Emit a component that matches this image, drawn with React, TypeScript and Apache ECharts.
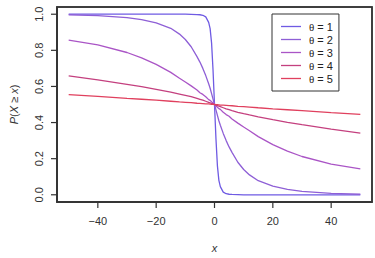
import React, { useEffect, useRef } from "react";
import * as echarts from "echarts";

const xValues = [-50, -40, -30, -25, -20, -15, -12, -10, -8, -6, -5, -4, -3, -2, -1.5, -1, -0.5, 0, 0.5, 1, 1.5, 2, 3, 4, 5, 6, 8, 10, 12, 15, 20, 25, 30, 40, 50];

const pTheta1 = [1.0, 1.0, 1.0, 1.0, 1.0, 1.0, 1.0, 1.0, 0.999, 0.998, 0.997, 0.994, 0.985, 0.955, 0.92, 0.84, 0.69, 0.5, 0.31, 0.16, 0.08, 0.045, 0.015, 0.006, 0.003, 0.002, 0.001, 0, 0, 0, 0, 0, 0, 0, 0];
const pTheta2 = [0.997, 0.992, 0.981, 0.97, 0.952, 0.922, 0.89, 0.86, 0.82, 0.765, 0.735, 0.7, 0.66, 0.615, 0.59, 0.56, 0.53, 0.5, 0.47, 0.44, 0.41, 0.385, 0.34, 0.3, 0.265, 0.235, 0.18, 0.14, 0.11, 0.078, 0.048, 0.03, 0.019, 0.008, 0.003];
const pTheta3 = [0.857, 0.83, 0.788, 0.758, 0.722, 0.678, 0.645, 0.625, 0.603, 0.58, 0.565, 0.556, 0.543, 0.527, 0.523, 0.515, 0.508, 0.5, 0.492, 0.485, 0.477, 0.473, 0.457, 0.444, 0.435, 0.42, 0.397, 0.375, 0.355, 0.322, 0.278, 0.242, 0.212, 0.17, 0.143];
const pTheta4 = [0.658, 0.636, 0.612, 0.599, 0.584, 0.568, 0.558, 0.551, 0.543, 0.534, 0.529, 0.524, 0.518, 0.512, 0.509, 0.506, 0.503, 0.5, 0.497, 0.494, 0.491, 0.488, 0.482, 0.476, 0.471, 0.466, 0.457, 0.449, 0.442, 0.432, 0.416, 0.401, 0.388, 0.364, 0.342];
const pTheta5 = [0.555, 0.545, 0.534, 0.529, 0.524, 0.518, 0.514, 0.512, 0.51, 0.507, 0.506, 0.505, 0.504, 0.503, 0.502, 0.501, 0.5005, 0.5, 0.4995, 0.499, 0.498, 0.497, 0.496, 0.495, 0.494, 0.493, 0.49, 0.488, 0.486, 0.482, 0.476, 0.471, 0.466, 0.455, 0.445];

const seriesNames = ["θ = 1", "θ = 2", "θ = 3", "θ = 4", "θ = 5"];
const seriesValues = [pTheta1, pTheta2, pTheta3, pTheta4, pTheta5];
const seriesColors = ["#6F5BE3", "#8E5FD6", "#AA55C6", "#C4407F", "#E0405E"];

const xTicks = [-40, -20, 0, 20, 40];
const yTicks = [0, 0.2, 0.4, 0.6, 0.8, 1.0];
const xRange = [-54, 54];
const yRange = [-0.04, 1.04];

const FONT = "'Liberation Sans', Arial, Helvetica, sans-serif";
const BOX = "#333333";

export default function App() {
  const ref = useRef<HTMLDivElement>(null);

  useEffect(() => {
    if (!ref.current) return;
    const chart = echarts.init(ref.current, undefined, { renderer: "svg" });
    chart.setOption({
      animation: false,
      textStyle: { fontFamily: FONT },
      grid: {
        left: 51,
        right: 3,
        top: 7,
        bottom: 50,
        show: true,
        borderColor: BOX,
        borderWidth: 1.5,
        backgroundColor: "rgba(0,0,0,0)",
      },
      legend: {
        orient: "vertical",
        left: 272,
        top: 14,
        padding: [6, 6, 6, 9],
        itemGap: 0,
        itemWidth: 20,
        itemHeight: 1.3,
        icon: "rect",
        borderColor: "#333333",
        borderWidth: 1,
        data: seriesNames,
        formatter: (name: string) => "{t|θ}" + name.slice(1),
        textStyle: {
          fontFamily: FONT,
          fontSize: 11,
          lineHeight: 13,
          color: "#222222",
          padding: [0, 0, 0, 3],
          rich: {
            t: { fontFamily: "'Liberation Serif', 'DejaVu Serif', serif", fontSize: 11, lineHeight: 13, color: "#222222" },
          },
        },
      },
      xAxis: {
        type: "value",
        min: xRange[0],
        max: xRange[1],
        splitLine: { show: false },
        axisLine: { show: true, onZero: false, lineStyle: { color: BOX, width: 1.5 } },
        axisTick: { show: false },
        axisLabel: {
          customValues: xTicks,
          margin: 13,
          fontSize: 11,
          color: "#333333",
          fontFamily: FONT,
          formatter: (v: number) => (v < 0 ? "\u2212" + Math.abs(v) : String(v)),
        },
        name: "x",
        nameLocation: "middle",
        nameGap: 40,
        nameTextStyle: { fontSize: 11, fontStyle: "italic", color: "#333333", fontFamily: FONT },
      },
      yAxis: {
        type: "value",
        min: yRange[0],
        max: yRange[1],
        splitLine: { show: false },
        axisLine: { show: true, onZero: false, lineStyle: { color: BOX, width: 1.5 } },
        axisTick: { show: false },
        axisLabel: {
          customValues: yTicks,
          rotate: 90,
          margin: 13,
          fontSize: 11,
          color: "#333333",
          fontFamily: FONT,
          formatter: (v: number) => v.toFixed(1),
        },
        name: "{i|P}({i|X} \u2265 {i|x})",
        nameLocation: "middle",
        nameRotate: 90,
        nameGap: 38,
        nameTextStyle: {
          fontSize: 11,
          color: "#333333",
          fontFamily: FONT,
          rich: { i: { fontStyle: "italic", fontSize: 11, color: "#333333", fontFamily: FONT } },
        },
      },
      series: seriesNames.map((name, i) => ({
        name,
        type: "line",
        data: xValues.map((x, j) => [x, seriesValues[i][j]]),
        showSymbol: false,
        symbol: "none",
        smooth: false,
        lineStyle: { color: seriesColors[i], width: 1.3 },
        itemStyle: { color: seriesColors[i] },
      })),
    });

    const toPx = (x: number, y: number) => chart.convertToPixel({ gridIndex: 0 }, [x, y]) as number[];
    const tl = toPx(xRange[0], yRange[1]);
    const br = toPx(xRange[1], yRange[0]);
    const frame: any[] = [
      {
        type: "rect",
        shape: { x: tl[0], y: tl[1], width: br[0] - tl[0], height: br[1] - tl[1] },
        style: { stroke: BOX, lineWidth: 1.5, fill: "rgba(0,0,0,0)" },
      },
    ];
    xTicks.forEach((t) => {
      const px = toPx(t, yRange[0])[0];
      frame.push({ type: "rect", shape: { x: px - 0.6, y: br[1], width: 1.2, height: 6 }, style: { fill: BOX } });
    });
    yTicks.forEach((t) => {
      const py = toPx(xRange[0], t)[1];
      frame.push({ type: "rect", shape: { x: tl[0] - 6, y: py - 0.6, width: 6, height: 1.2 }, style: { fill: BOX } });
    });
    chart.setOption({
      graphic: { elements: frame.map((g) => ({ ...g, silent: true, z: 100 })) },
    });
    return () => chart.dispose();
  }, []);

  return <div ref={ref} style={{ width: 375, height: 258, position: "absolute", left: 0, top: 0 }} />;
}
